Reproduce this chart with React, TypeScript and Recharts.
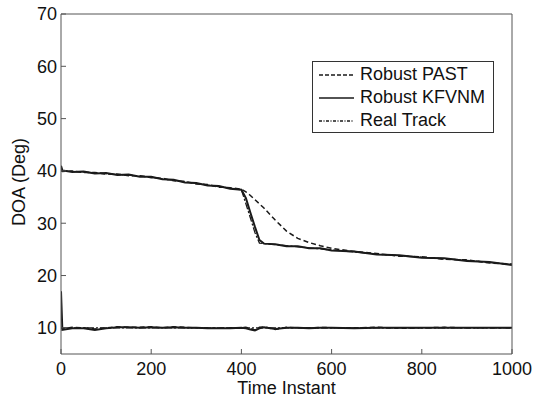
import { LineChart, Line, XAxis, YAxis } from 'recharts';

// sample instants (x) shared by every series
const time = [0, 3, 25, 50, 75, 100, 125, 150, 175, 200, 225, 250, 275, 300, 325, 350, 375, 400,
  410, 420, 430, 440, 450, 475, 500, 525, 550, 575, 600, 650, 700, 750, 800, 850, 900, 950, 1000];

// upper source
const realUpper = [40, 40, 39.9, 39.8, 39.6, 39.5, 39.3, 39.2, 39.0, 38.8, 38.5, 38.2, 37.9, 37.6, 37.3, 37.0, 36.7, 36.4,
  33.7, 31.0, 28.2, 26.2, 26.1, 25.9, 25.7, 25.5, 25.3, 25.1, 24.9, 24.5, 24.1, 23.8, 23.5, 23.2, 22.9, 22.5, 22.1];
const kfvnmUpper = [41, 40.1, 39.8, 39.9, 39.5, 39.6, 39.2, 39.3, 38.9, 38.9, 38.4, 38.3, 37.8, 37.7, 37.2, 37.1, 36.6, 36.4,
  34.8, 32.0, 29.3, 26.8, 26.1, 26.0, 25.6, 25.6, 25.2, 25.2, 24.8, 24.6, 24.0, 23.9, 23.4, 23.3, 22.8, 22.6, 22.0];
const pastUpper = [40.2, 39.9, 40.0, 39.7, 39.7, 39.4, 39.4, 39.1, 39.1, 38.7, 38.6, 38.1, 38.0, 37.5, 37.4, 36.9, 36.8, 36.5,
  36.0, 35.3, 34.5, 33.7, 32.9, 30.6, 28.5, 27.1, 26.3, 25.7, 25.2, 24.6, 24.2, 23.7, 23.6, 23.1, 23.0, 22.4, 22.2];

// lower source
const realLower = [10, 10, 10, 10, 10, 10, 10, 10, 10, 10, 10, 10, 10, 10, 10, 10, 10, 10,
  10, 10, 10, 10, 10, 10, 10, 10, 10, 10, 10, 10, 10, 10, 10, 10, 10, 10, 10];
const kfvnmLower = [17, 9.6, 9.9, 9.9, 9.6, 9.9, 10.1, 10.1, 10.0, 10.1, 10.0, 10.1, 10.0, 10.0, 9.9, 9.9, 9.9, 10.0,
  9.9, 9.7, 9.5, 9.9, 10.1, 9.8, 10.0, 10.0, 9.9, 10.0, 10.0, 9.9, 10.0, 10.0, 10.0, 10.0, 10.0, 10.0, 10.0];
const pastLower = [10.2, 9.8, 10.1, 10.0, 9.8, 10.0, 10.2, 10.1, 10.1, 10.2, 10.0, 10.2, 10.1, 10.0, 10.0, 9.9, 10.0, 10.0,
  10.1, 9.9, 9.6, 10.1, 10.2, 9.7, 10.1, 10.0, 10.0, 10.1, 10.0, 10.0, 10.1, 9.9, 10.0, 10.1, 10.0, 10.0, 10.0];

const xTicks = [0, 200, 400, 600, 800, 1000];
const yTicks = [10, 20, 30, 40, 50, 60, 70];

const rows = time.map((t, i) => ({
  t,
  realUpper: realUpper[i],
  kfvnmUpper: kfvnmUpper[i],
  pastUpper: pastUpper[i],
  realLower: realLower[i],
  kfvnmLower: kfvnmLower[i],
  pastLower: pastLower[i],
}));

const INK = '#1a1a1a';
const AXIS = '#555';
const FONT = '"Liberation Sans", Arial, Helvetica, sans-serif';
const PAST_DASH = '5 3';
const REAL_DASH = '7 2 2 2';

const legendItems = [
  { name: 'Robust PAST', dash: '4 2' },
  { name: 'Robust KFVNM', dash: undefined },
  { name: 'Real Track', dash: '3 1.5 1 1.5' },
];

function ChartLegend() {
  return (
    <div
      style={{
        position: 'absolute',
        left: 312,
        top: 61,
        width: 180,
        height: 69,
        border: '1px solid #333',
        background: '#fff',
        paddingTop: 1,
      }}
    >
      {legendItems.map((item) => (
        <div key={item.name} style={{ display: 'flex', alignItems: 'center', height: 23 }}>
          <svg width={42} height={10} style={{ marginLeft: 5 }}>
            <line x1={1} y1={5} x2={36} y2={5} stroke={INK} strokeWidth={1.5} strokeDasharray={item.dash} />
          </svg>
          <span style={{ fontSize: 18, color: '#111', lineHeight: '23px' }}>{item.name}</span>
        </div>
      ))}
    </div>
  );
}

export default function App() {
  return (
    <div style={{ position: 'absolute', left: 0, top: 0, width: 533, height: 398, background: '#fff', fontFamily: FONT }}>
      <LineChart width={533} height={398} data={rows} margin={{ top: 13, right: 20, bottom: 0, left: 0 }}>
        <XAxis
          dataKey="t"
          type="number"
          domain={[0, 1000]}
          ticks={xTicks}
          allowDataOverflow
          height={44}
          tickSize={-5}
          tickMargin={13}
          stroke={AXIS}
          tick={{ fill: '#111', fontSize: 18, fontFamily: FONT }}
          label={({ viewBox }: any) => (
            <text
              x={viewBox.x + viewBox.width / 2}
              y={394}
              textAnchor="middle"
              fill="#111"
              fontSize={18}
              fontFamily={FONT}
            >
              Time Instant
            </text>
          )}
        />
        <XAxis
          xAxisId="top"
          dataKey="t"
          orientation="top"
          type="number"
          domain={[0, 1000]}
          ticks={xTicks}
          allowDataOverflow
          height={1}
          tickSize={-5}
          tick={false}
          stroke={AXIS}
        />
        <YAxis
          type="number"
          domain={[5, 70]}
          ticks={yTicks}
          allowDataOverflow
          width={61}
          tickSize={-5}
          tickMargin={9}
          stroke={AXIS}
          tick={{ fill: '#111', fontSize: 18, fontFamily: FONT }}
          label={() => (
            <text
              x={25}
              y={182}
              transform="rotate(-90 25 182)"
              textAnchor="middle"
              fill="#111"
              fontSize={18}
              fontFamily={FONT}
            >
              DOA (Deg)
            </text>
          )}
        />
        <YAxis
          yAxisId="right"
          orientation="right"
          type="number"
          domain={[5, 70]}
          ticks={yTicks}
          allowDataOverflow
          width={1}
          tickSize={-5}
          tick={false}
          stroke={AXIS}
        />
        {/* invisible series so the top/right frame axes get drawn */}
        <Line xAxisId="top" yAxisId="right" dataKey="realLower" stroke="none" dot={false} activeDot={false} isAnimationActive={false} />
        <Line dataKey="realUpper" stroke={INK} strokeWidth={1.3} strokeDasharray={REAL_DASH} dot={false} isAnimationActive={false} />
        <Line dataKey="realLower" stroke={INK} strokeWidth={1.3} strokeDasharray={REAL_DASH} dot={false} isAnimationActive={false} />
        <Line dataKey="pastUpper" stroke={INK} strokeWidth={1.5} strokeDasharray={PAST_DASH} dot={false} isAnimationActive={false} />
        <Line dataKey="pastLower" stroke={INK} strokeWidth={1.5} strokeDasharray={PAST_DASH} dot={false} isAnimationActive={false} />
        <Line dataKey="kfvnmUpper" stroke={INK} strokeWidth={2} dot={false} isAnimationActive={false} />
        <Line dataKey="kfvnmLower" stroke={INK} strokeWidth={2} dot={false} isAnimationActive={false} />
      </LineChart>
      <ChartLegend />
    </div>
  );
}
